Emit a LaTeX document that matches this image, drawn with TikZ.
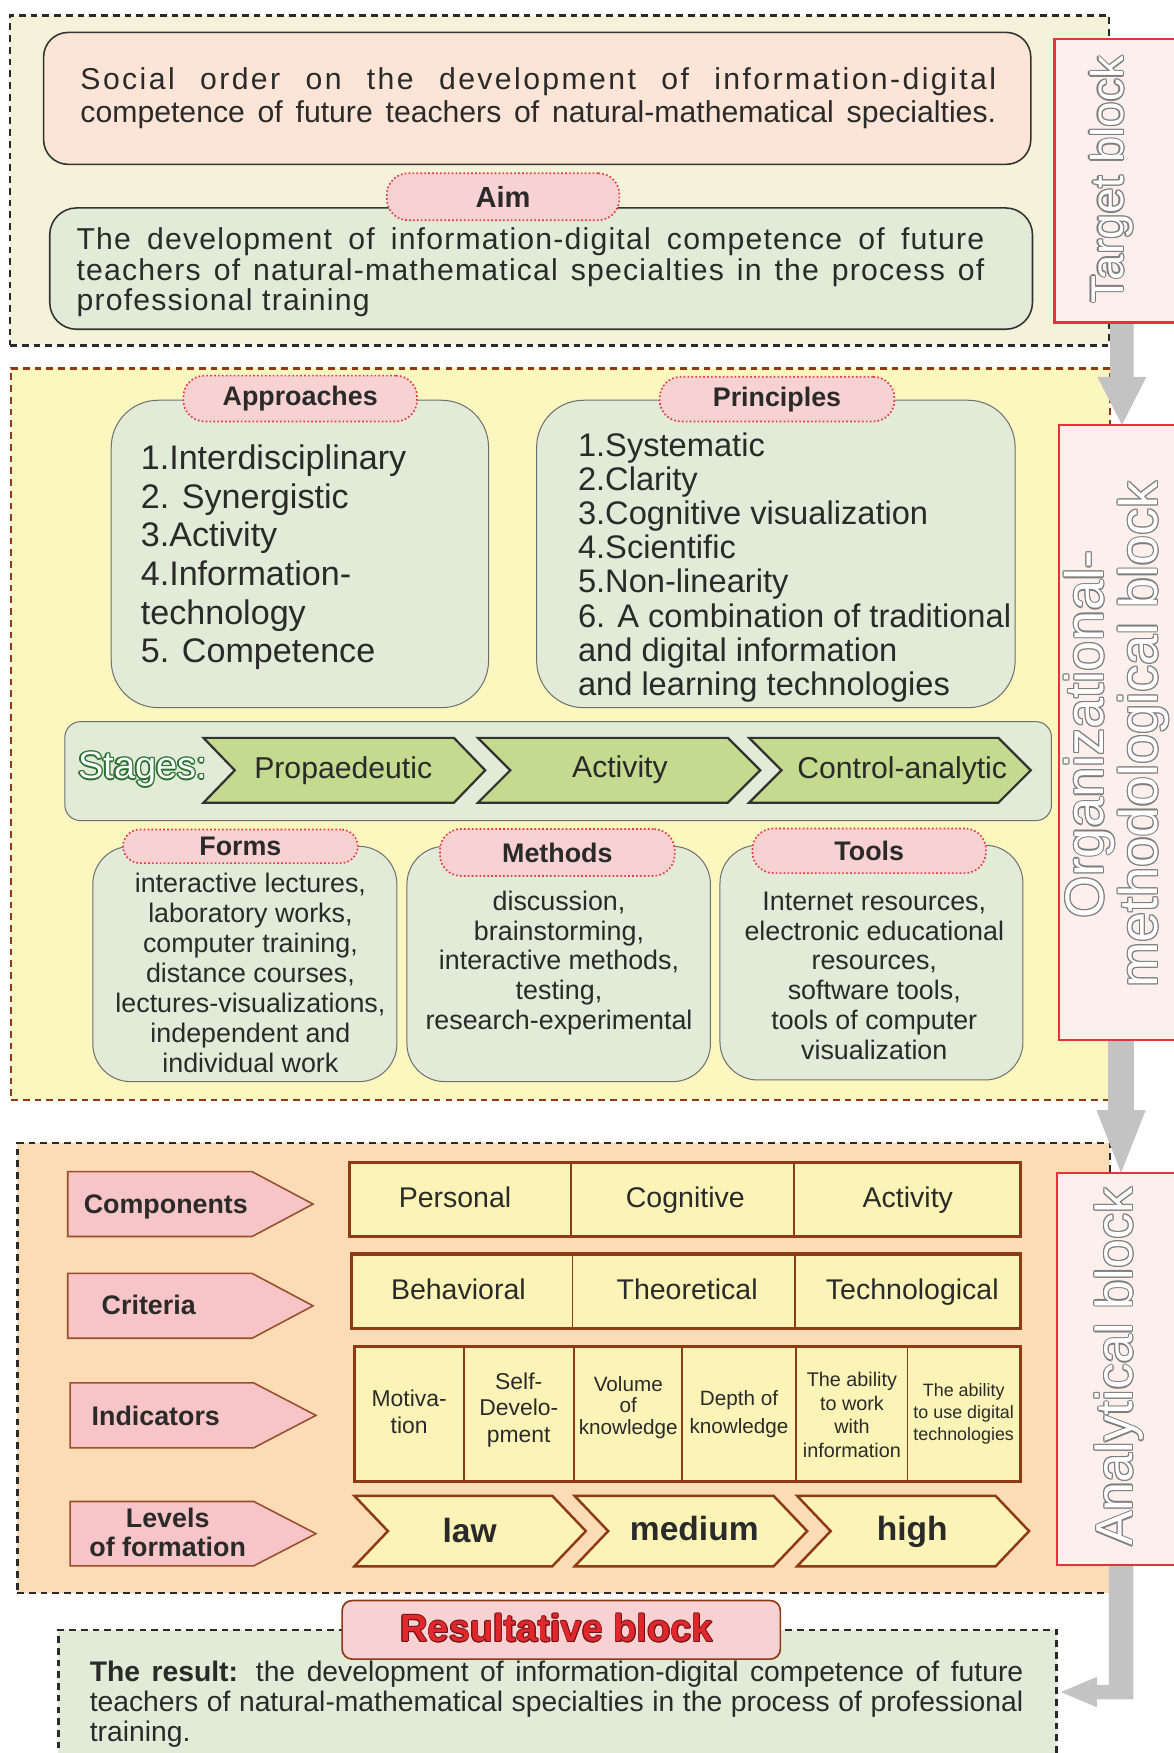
\documentclass[tikz,border=0pt]{standalone}
\usepackage{fontspec}
\setmainfont{Liberation Sans}
\usetikzlibrary{calc}

\definecolor{ink}{HTML}{2A2A2A}
\definecolor{creamfill}{HTML}{F4F3DA}
\definecolor{peach}{HTML}{FCE4D6}
\definecolor{sage}{HTML}{E1EBD7}
\definecolor{pillfill}{HTML}{F8D2D2}
\definecolor{pilledge}{HTML}{E83A44}
\definecolor{lemon}{HTML}{FBF7BE}
\definecolor{rust}{HTML}{8E3A14}
\definecolor{stagefill}{HTML}{C4DA8E}
\definecolor{tagfill}{HTML}{FCEFEC}
\definecolor{tagedge}{HTML}{E5323B}
\definecolor{apricot}{HTML}{FBDCB4}
\definecolor{rosefill}{HTML}{F7C4C7}
\definecolor{cellfill}{HTML}{FCF4B6}
\definecolor{arrowgray}{HTML}{C3C3C3}
\definecolor{boxedge}{HTML}{6F6F6F}
\definecolor{darkedge}{HTML}{333333}
\definecolor{resred}{HTML}{E1262C}
\definecolor{darkred}{HTML}{6E1416}
\definecolor{rimgray}{HTML}{7E7E7E}
\definecolor{stagegreen}{HTML}{27702F}

\newcommand{\fs}[2]{\fontsize{#1}{#2}\selectfont}

% hollow lettering: rim colour, face colour, text
\newlength{\rimw}
\setlength{\rimw}{1.1pt}
\newcommand{\outlined}[3]{\leavevmode
  \rlap{\textcolor{#1}{\kern-\rimw #3}}%
  \rlap{\textcolor{#1}{\kern\rimw #3}}%
  \rlap{\textcolor{#1}{\raisebox{\rimw}{#3}}}%
  \rlap{\textcolor{#1}{\raisebox{-\rimw}{#3}}}%
  \rlap{\textcolor{#1}{\kern-.7\rimw\raisebox{.7\rimw}{#3}}}%
  \rlap{\textcolor{#1}{\kern.7\rimw\raisebox{.7\rimw}{#3}}}%
  \rlap{\textcolor{#1}{\kern-.7\rimw\raisebox{-.7\rimw}{#3}}}%
  \rlap{\textcolor{#1}{\kern.7\rimw\raisebox{-.7\rimw}{#3}}}%
  \textcolor{#2}{#3}}

% box node from its top-left and bottom-right corners
\newcommand{\panel}[6]{\node[#2, anchor=north west, minimum width={#5-#3}, minimum height={#6-#4}] (#1) at (#3,#4) {};}

% a column of text lines: name, style, x, first baseline, step, lines
\newcommand{\lines}[6]{\foreach \lntxt [count=\k from 1] in {#6}{\node[anchor=base,#2] (#1\k) at (#3,{#4+(\k-1)*#5}) {\lntxt};}}

% chevron: style, x left, x right, y top, y bottom, depth
\newcommand{\chevron}[6]{\draw[#1] (#2,#4) -- ({#3-#6},#4) -- (#3,{(#4+#5)/2}) -- ({#3-#6},#5) -- (#2,#5) -- ({#2+#6},{(#4+#5)/2}) -- cycle;}

% pointed label: x left, x shoulder, x tip, y top, y bottom
\newcommand{\pointer}[5]{\draw[flag] (#1,#4) -- (#2,#4) -- (#3,{(#4+#5)/2}) -- (#2,#5) -- (#1,#5) -- cycle;}

\pgfdeclarelayer{front}
\pgfsetlayers{main,front}

\begin{document}
\begin{tikzpicture}[x=1pt,y=-1pt,
  every node/.style={text=ink, inner sep=0pt, outer sep=0pt},
  frame/.style={line width=2.3pt, dash pattern=on 6pt off 4.5pt},
  tag/.style={draw=tagedge, fill=tagfill, line width=2.2pt},
  card/.style={draw=boxedge, fill=sage, line width=0.9pt},
  plate/.style={draw=darkedge, line width=1.4pt, rounded corners=22pt},
  pill/.style={draw=pilledge, fill=pillfill, line width=1.5pt, dotted, rounded corners=19pt},
  pilltext/.style={font=\fs{24}{28}\bfseries},
  stagechev/.style={draw=darkedge, fill=stagefill, line width=2pt},
  levelchev/.style={draw=rust, fill=cellfill, line width=2.2pt},
  flag/.style={draw=rust!90, fill=rosefill, line width=1.4pt},
  cellrow/.style={draw=rust, fill=cellfill, line width=2.8pt},
  divider/.style={draw=rust, line width=1.5pt},
  arrowfill/.style={fill=arrowgray}]

\useasboundingbox (0,0) rectangle (1050,1568);
\clip (0,0) rectangle (1050,1568);
\fill[white] (0,0) rectangle (1050,1568);

% ---------- block frames ----------
\panel{tgtframe}{frame,draw=ink,fill=creamfill}{9}{14}{992}{309}
\panel{orgframe}{frame,draw=rust,fill=lemon}{10}{329.5}{993}{984}
\panel{anaframe}{frame,draw=ink,fill=apricot}{15.4}{1022.5}{993}{1425}
\panel{resframe}{frame,draw=ink,fill=sage}{52.2}{1458}{945}{1620}

% ---------- target block ----------
\panel{social}{plate,fill=peach}{39}{29}{922}{147}
\node[anchor=base west, font=\fs{27}{30}\addfontfeatures{LetterSpace=8}] (soc1) at (72,80)
  {\makebox[819pt][s]{Social order on the development of information-digital}};
\node[anchor=base west, font=\fs{27}{30}] (soc2) at (72,109.7)
  {\makebox[819pt][s]{competence of future teachers of natural-mathematical specialties.}};

\panel{aimcard}{plate,fill=sage,rounded corners=24pt}{44.5}{186}{923.5}{294.5}
\panel{aimpill}{pill}{346}{155}{554}{197}
\node[font=\fs{26}{30}\bfseries] (aimlbl) at (aimpill) {Aim};
\node[anchor=base west, font=\fs{27}{30}\addfontfeatures{LetterSpace=4}] (aim1) at (68.5,223.6)
  {\makebox[812pt][s]{The development of information-digital competence of future}};
\node[anchor=base west, font=\fs{27}{30}\addfontfeatures{LetterSpace=4}] (aim2) at (68.5,250.6)
  {\makebox[812pt][s]{teachers of natural-mathematical specialties in the process of}};
\node[anchor=base west, font=\fs{27}{30}\addfontfeatures{LetterSpace=4}] (aim3) at (68.5,277.8) {professional training};

% ---------- organizational-methodological block ----------
\panel{apprcard}{card,rounded corners=42pt}{99.5}{358}{437}{633}
\panel{apprpill}{pill}{164}{336}{373}{377}
\node[pilltext] (apprlbl) at (apprpill) {Approaches};
\lines{appr}{anchor=base west, font=\fs{30.5}{35}}{126}{420}{34.6}
  {{1.Interdisciplinary},{2. Synergistic},{3.Activity},{4.Information-},{technology},{5. Competence}}

\panel{princard}{card,rounded corners=42pt}{480}{358}{908}{633}
\panel{prinpill}{pill}{590}{337}{800}{377}
\node[pilltext] (prinlbl) at (prinpill) {Principles};
\lines{prin}{anchor=base west, font=\fs{29.2}{34}}{517}{408}{30.6}
  {{1.Systematic},{2.Clarity},{3.Cognitive visualization},{4.Scientific},{5.Non-linearity},
   {6. A combination of traditional},{and digital information},{and learning technologies}}

\panel{stagebar}{card,rounded corners=14pt}{58}{645.5}{940.5}{734}
\node[anchor=base, font=\fs{34}{36}] (stagelbl) at (127.5,696.5)
  {\setlength{\rimw}{1.3pt}\outlined{stagegreen}{white}{Stages:}};
\chevron{stagechev}{182}{434}{660}{718}{28}
\chevron{stagechev}{427.5}{680}{660}{718}{29}
\chevron{stagechev}{670}{922}{660}{718}{29}
\node[anchor=base, font=\fs{27}{30}] (stage1) at (307,696) {Propaedeutic};
\node[anchor=base, font=\fs{27}{30}] (stage2) at (554.5,695.3) {Activity};
\node[anchor=base, font=\fs{27}{30}] (stage3) at (807,696) {Control-analytic};

\panel{formcard}{card,rounded corners=34pt}{83}{757}{355}{967.5}
\panel{formpill}{pill,rounded corners=15pt}{110}{742}{320}{772}
\node[pilltext] (formlbl) at (formpill) {Forms};
\lines{form}{font=\fs{24}{27}}{224}{798.4}{26.8}
  {{interactive lectures,},{laboratory works,},{computer training,},{distance courses,},
   {lectures-visualizations,},{independent and},{individual work}}

\panel{methcard}{card,rounded corners=34pt}{364}{757}{635.5}{967.5}
\panel{methpill}{pill}{393.5}{741.5}{603.5}{783.5}
\node[pilltext] (methlbl) at (methpill) {Methods};
\lines{meth}{font=\fs{24}{27}}{500}{814}{26.8}
  {{discussion,},{brainstorming,},{interactive methods,},{testing,},{research-experimental}}

\panel{toolcard}{card,rounded corners=34pt}{644}{756}{915}{966}
\panel{toolpill}{pill}{673}{741}{882}{781}
\node[pilltext] (toollbl) at (toolpill) {Tools};
\lines{tool}{font=\fs{24}{27}}{782}{814}{26.8}
  {{Internet resources,},{electronic educational},{resources,},{software tools,},
   {tools of computer},{visualization}}

% ---------- analytical block ----------
\pointer{60.6}{225.5}{280}{1048}{1106}
\pointer{60.6}{225.5}{280}{1139}{1197}
\pointer{62.7}{227}{282.6}{1237}{1295}
\pointer{62.7}{227}{282.6}{1343}{1400.6}
\node[anchor=base west, font=\fs{24}{27}\bfseries] (complbl) at (75,1085) {Components};
\node[anchor=base west, font=\fs{24}{27}\bfseries] (critlbl) at (91,1176) {Criteria};
\node[anchor=base west, font=\fs{24}{27}\bfseries] (indlbl) at (82,1274.6) {Indicators};
\node[anchor=base, font=\fs{24}{27}\bfseries] (levlbl1) at (150,1366) {Levels};
\node[anchor=base, font=\fs{24}{27}\bfseries] (levlbl2) at (150,1392.3) {of formation};

\panel{comprow}{cellrow}{312.5}{1039.6}{913}{1106}
\draw[divider] (510.5,1039.6) -- (510.5,1106);
\draw[divider] (710,1039.6) -- (710,1106);
\node[anchor=base, font=\fs{25.5}{28}] (comp1) at (407,1080) {Personal};
\node[anchor=base, font=\fs{25.5}{28}] (comp2) at (613,1080) {Cognitive};
\node[anchor=base, font=\fs{25.5}{28}] (comp3) at (812,1080) {Activity};

\panel{critrow}{cellrow}{314.6}{1121.7}{913}{1188}
\draw[divider] (512,1121.7) -- (512,1188);
\draw[divider] (711,1121.7) -- (711,1188);
\node[anchor=base, font=\fs{25.5}{28}] (crit1) at (410,1162.7) {Behavioral};
\node[anchor=base, font=\fs{25.5}{28}] (crit2) at (614.6,1162.7) {Theoretical};
\node[anchor=base, font=\fs{25.5}{28}] (crit3) at (816,1162.7) {Technological};

\panel{indrow}{cellrow}{316.8}{1204.5}{913}{1325}
\foreach \xd in {415,513.4,610,712,811.7}
  \draw[divider] (\xd,1204.5) -- (\xd,1325);
\lines{indA}{font=\fs{20.5}{24}}{366}{1258}{24.6}{{Motiva-},{tion}}
\lines{indB}{font=\fs{20.5}{24}}{464}{1242.7}{23.7}{{Self-},{Develo-},{pment}}
\lines{indC}{font=\fs{18.5}{20}}{562}{1244.8}{19}{{Volume},{of},{knowledge}}
\lines{indD}{font=\fs{18.5}{20}}{661}{1257.6}{25}{{Depth of},{knowledge}}
\lines{indE}{font=\fs{17.7}{20}}{762}{1240.3}{21.1}{{The ability},{to work},{with},{information}}
\lines{indF}{font=\fs{16}{19}}{862}{1249.3}{19.4}{{The ability},{to use digital},{technologies}}

\chevron{levelchev}{317}{524}{1338}{1401}{30}
\chevron{levelchev}{514}{722}{1338}{1401}{30}
\chevron{levelchev}{713}{920.5}{1338}{1401}{30}
\node[anchor=base, font=\fs{30}{33}\bfseries] (lev1) at (420,1380) {law};
\node[anchor=base, font=\fs{30}{33}\bfseries] (lev2) at (621,1377.5) {medium};
\node[anchor=base, font=\fs{30}{33}\bfseries] (lev3) at (816,1377.5) {high};

% ---------- resultative block ----------
\panel{reslabel}{draw=rust, fill=pillfill, line width=1.5pt, rounded corners=9pt}{306}{1431.6}{698}{1484}
\node[anchor=base, font=\fs{34}{38}\bfseries] (restitle) at (498,1468.4)
  {\setlength{\rimw}{0.6pt}\outlined{darkred}{resred}{Resultative block}};
\node[anchor=base west, font=\fs{25.3}{27}] (res1) at (80.3,1504)
  {\makebox[835pt][s]{\textbf{The result:} the development of information-digital competence of future}};
\node[anchor=base west, font=\fs{25.3}{27}] (res2) at (80.3,1531)
  {\makebox[835pt][s]{teachers of natural-mathematical specialties in the process of professional}};
\node[anchor=base west, font=\fs{25.3}{27}] (res3) at (80.3,1558) {training.};

% ---------- side tags ----------
\begin{pgfonlayer}{front}
\panel{tagT}{tag}{943}{35}{1060}{288.6}
\panel{tagO}{tag}{947}{380}{1060}{930}
\panel{tagA}{tag}{945.5}{1049}{1060}{1400}
\node[rotate=90, font=\fs{41}{44}] (tagTtxt) at (994,160.5)
  {\outlined{rimgray}{white}{Target block}};
\node[rotate=90, align=center, font=\fs{48.5}{47}] (tagOtxt) at (998.5,657)
  {\outlined{rimgray}{white}{Organizational-}\\\outlined{rimgray}{white}{methodological block}};
\node[rotate=90, font=\fs{46.5}{48}] (tagAtxt) at (1001,1222.5)
  {\outlined{rimgray}{white}{Analytical block}};
\end{pgfonlayer}

% ---------- flow arrows between the tags ----------
\fill[arrowfill] ($(tagO.north |- tagT.south)+(-10.5,0)$) -- ($(tagO.north)+(-10.5,-43)$)
  -- ($(tagO.north)+(-22,-43)$) -- (tagO.north) -- ($(tagO.north)+(22,-43)$)
  -- ($(tagO.north)+(10.5,-43)$) -- ($(tagO.north |- tagT.south)+(10.5,0)$) -- cycle;
\fill[arrowfill] ($(tagA.north |- tagO.south)+(-11.5,0)$) -- ($(tagA.north)+(-11.5,-56)$)
  -- ($(tagA.north)+(-22,-56)$) -- (tagA.north) -- ($(tagA.north)+(22,-56)$)
  -- ($(tagA.north)+(11.5,-56)$) -- ($(tagA.north |- tagO.south)+(11.5,0)$) -- cycle;
\coordinate (restip) at (949,1513.5);
\fill[arrowfill] ($(tagA.south)+(-11,0)$) |- ($(restip)+(32,-6.5)$) -- ($(restip)+(32,-13.5)$)
  -- (restip) -- ($(restip)+(32,13.5)$) -- ($(restip)+(32,6.5)$) -| ($(tagA.south)+(11,0)$) -- cycle;

\end{tikzpicture}
\end{document}
